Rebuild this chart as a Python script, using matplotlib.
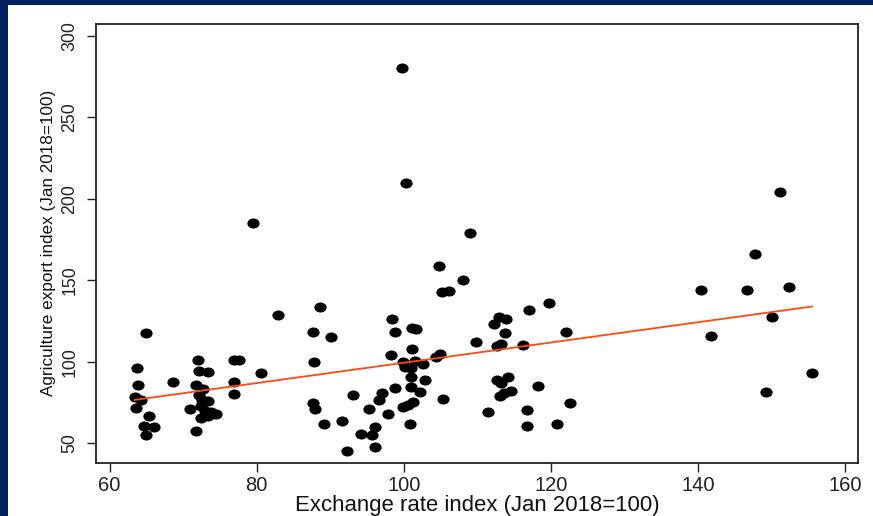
import numpy as np
import matplotlib
matplotlib.use("Agg")
import matplotlib.pyplot as plt
from matplotlib import font_manager
from matplotlib.path import Path
from matplotlib.transforms import Affine2D
from matplotlib.patches import Rectangle

# exchange rate index (x) and agriculture export index (y)
exchange_rate = [
    65.0, 63.7, 63.9, 63.4, 64.2, 63.6, 65.4, 64.6, 66.0, 65.0,
    68.6,
    72.0, 72.2, 73.3, 71.7, 72.7, 72.2, 72.6, 73.4, 72.4, 73.0, 73.8, 74.5,
    72.4, 73.3, 70.9, 71.7,
    76.9, 77.6, 76.9, 76.9,
    79.5, 80.6, 82.9,
    87.7, 88.6, 90.1, 87.8, 87.6, 87.9, 89.2, 91.6, 93.1, 92.2,
    94.2, 95.6, 96.1, 96.1, 95.3, 96.6, 97.0, 97.9, 98.8, 98.4, 98.8, 98.2,
    99.7, 100.3, 99.9, 101.5, 100.2, 102.6, 100.9, 101.1, 101.1, 101.6,
    100.9, 100.9, 102.9, 102.2, 101.3, 100.6, 99.9, 100.8,
    104.3, 104.9, 105.3, 104.8, 108.0, 105.2, 106.2, 109.0, 109.8,
    112.2, 112.9, 113.9, 113.8, 112.7, 113.2, 116.2, 117.0, 119.7, 122.1,
    112.7, 113.2, 114.2, 113.0, 113.6, 114.5, 111.4, 116.7, 116.7, 118.2,
    120.8, 122.6,
    140.4, 141.8, 146.6, 147.7, 149.3, 150.1, 151.2, 152.4, 155.5,
]
agri_export = [
    117.7, 96.1, 85.5, 78.5, 76.5, 71.6, 66.7, 60.6, 59.8, 54.9,
    87.5,
    101.4, 94.5, 93.9, 85.9, 83.4, 79.5, 76.5, 75.8, 73.0, 70.0, 69.5, 67.8,
    65.5, 66.5, 70.8, 57.5,
    101.0, 101.0, 87.5, 80.2,
    185.1, 93.2, 129.0,
    118.3, 133.7, 115.5, 99.6, 74.9, 70.8, 62.0, 63.8, 79.8, 45.1,
    55.7, 55.1, 60.0, 47.5, 71.2, 76.5, 81.0, 68.0, 83.7, 126.0, 118.2, 104.1,
    280.4, 209.4, 100.0, 100.4, 96.9, 98.6, 96.1, 107.7, 121.0, 120.2,
    90.8, 84.7, 88.8, 81.6, 75.3, 73.5, 72.0, 61.8,
    103.0, 104.5, 76.9, 158.8, 150.4, 142.9, 143.5, 178.7, 112.0,
    122.9, 127.5, 126.5, 117.4, 109.8, 110.8, 110.0, 131.6, 136.3, 118.3,
    88.8, 86.7, 90.8, 79.0, 80.6, 82.2, 69.4, 70.4, 60.8, 85.1,
    61.8, 74.7,
    143.9, 115.7, 144.3, 166.3, 81.6, 127.5, 204.1, 145.9, 93.2,
]

x_ticks = [60, 80, 100, 120, 140, 160]
y_ticks = [50, 100, 150, 200, 250, 300]

plt.rcParams["font.family"] = ["Liberation Sans", "DejaVu Sans"]

# the original picture is stretched sideways: vertical text looks narrow
# and thick, so use the narrow face for the y label if it is there
installed = {f.name for f in font_manager.fontManager.ttflist}
if "Liberation Sans Narrow" in installed:
    ylab_font, ylab_size = "Liberation Sans Narrow", 15.0
else:
    ylab_font, ylab_size = "Liberation Sans", 12.3

fig = plt.figure(figsize=(8.73, 5.16), dpi=100, facecolor="#00205f")
# white panel, navy shows only as a thin band on the left and top
fig.patches.append(Rectangle((8 / 873, 0), 1, (516 - 5) / 516,
                             transform=fig.transFigure, facecolor="white",
                             edgecolor="none", zorder=-5))

ax = fig.add_axes([96 / 873, 53.3 / 516, 761.7 / 873, 438.7 / 516])

# slightly flattened dot, like the original
dot = Path.unit_circle().transformed(Affine2D().scale(1.0, 0.82))
ax.scatter(exchange_rate, agri_export, s=78, marker=dot, color="black",
           linewidths=0, zorder=3)

# linear fit
slope, intercept = np.polyfit(exchange_rate, agri_export, 1)
xs = np.array([min(exchange_rate), max(exchange_rate)])
ax.plot(xs, intercept + slope * xs, color="#ff4a0f", lw=1.3, zorder=4)

ax.set_xlim(58.14, 161.7)
ax.set_ylim(38.1, 307.2)
ax.set_xticks(x_ticks)
ax.set_yticks(y_ticks)
ax.tick_params(direction="out", length=6.3, width=1.0, colors="#222222")
ax.tick_params(axis="x", pad=3.5, labelsize=14.5)
ax.tick_params(axis="y", pad=6.5, labelsize=12.8)
for lab in ax.get_yticklabels():
    lab.set_rotation(90)
    lab.set_va("center")

for sp in ax.spines.values():
    sp.set_linewidth(1.2)
    sp.set_color("#111111")

ax.set_xlabel("Exchange rate index (Jan 2018=100)", fontsize=15.9,
              labelpad=0, color="#111111")
ax.set_ylabel("Agriculture export index (Jan 2018=100)", fontsize=ylab_size,
              family=[ylab_font, "DejaVu Sans"], labelpad=4, color="#111111")

fig.savefig("out.png", dpi=100, facecolor=fig.get_facecolor())
